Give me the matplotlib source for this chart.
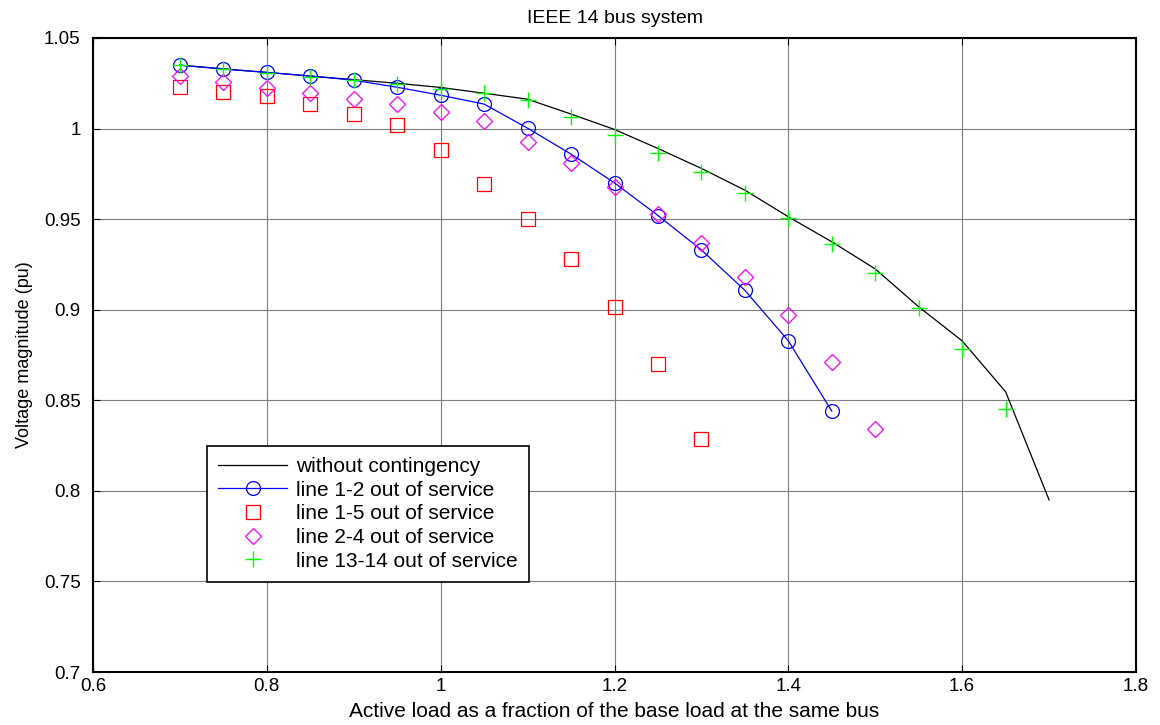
import matplotlib
matplotlib.use("Agg")
import matplotlib.pyplot as plt

plt.rcParams['font.family'] = ['Liberation Sans', 'DejaVu Sans']

# load fraction
load = [0.7, 0.75, 0.8, 0.85, 0.9, 0.95, 1.0, 1.05, 1.1, 1.15, 1.2, 1.25,
        1.3, 1.35, 1.4, 1.45, 1.5, 1.55, 1.6, 1.65, 1.7]

# voltage magnitudes (pu)
v_base = [1.035, 1.033, 1.031, 1.029, 1.027, 1.025, 1.0227, 1.0195, 1.0162,
          1.008, 0.9995, 0.989, 0.978, 0.966, 0.9513, 0.9375, 0.9225, 0.9016,
          0.8828, 0.8547, 0.795]
v_12 = [1.035, 1.0328, 1.031, 1.029, 1.0267, 1.0228, 1.0184, 1.0135, 1.0002,
        0.9859, 0.970, 0.952, 0.933, 0.9107, 0.8828, 0.844]
v_15 = [1.0232, 1.0203, 1.018, 1.0136, 1.0083, 1.0022, 0.988, 0.9695, 0.9502,
        0.9278, 0.9015, 0.870, 0.8284]
v_24 = [1.029, 1.0256, 1.0223, 1.0195, 1.0162, 1.0135, 1.009, 1.004, 0.9925,
        0.981, 0.968, 0.9526, 0.9366, 0.918, 0.897, 0.871, 0.834]
v_1314 = [1.035, 1.0328, 1.0306, 1.0284, 1.0267, 1.0245, 1.0216, 1.0194,
          1.0157, 1.0062, 0.9967, 0.9864, 0.9759, 0.9642, 0.9504, 0.9365,
          0.9204, 0.9011, 0.8782, 0.845]

fig = plt.figure(figsize=(11.6, 7.25), dpi=100)
ax = fig.add_axes([0.0802, 0.0731, 0.8991, 0.8745])

ax.plot(load[:len(v_base)], v_base, color="k", lw=0.9,
        label="without contingency")
ax.plot(load[:len(v_12)], v_12, color="#0000ff", lw=0.9, marker="o",
        ms=10, mfc="none", mew=0.9, label="line 1-2 out of service")
ax.plot(load[:len(v_15)], v_15, ls="none", color="#ff0000", marker="s",
        ms=10, mfc="none", mew=0.9, label="line 1-5 out of service")
ax.plot(load[:len(v_24)], v_24, ls="none", color="#ff00ff", marker="D",
        ms=8, mfc="none", mew=0.9, label="line 2-4 out of service")
ax.plot(load[:len(v_1314)], v_1314, ls="none", color="#00ff00", marker="+",
        ms=12, mew=1.0, label="line 13-14 out of service")

ax.set_xlim(0.6, 1.8)
ax.set_ylim(0.7, 1.05)
ax.set_xticks([0.6, 0.8, 1.0, 1.2, 1.4, 1.6, 1.8])
ax.set_xticklabels(["0.6", "0.8", "1", "1.2", "1.4", "1.6", "1.8"])
ax.set_yticks([0.7, 0.75, 0.8, 0.85, 0.9, 0.95, 1.0, 1.05])
ax.set_yticklabels(["0.7", "0.75", "0.8", "0.85", "0.9", "0.95", "1", "1.05"])
ax.tick_params(direction="in", top=True, right=True, labelsize=13.5, length=5)
ax.tick_params(axis="y", pad=9)
ax.tick_params(axis="x", pad=4)
ax.grid(True, color="#7f7f7f", lw=0.8)
for s in ax.spines.values():
    s.set_linewidth(1.5)

ax.set_title("IEEE 14 bus system", fontsize=14, pad=11)
ax.set_xlabel("Active load as a fraction of the base load at the same bus",
              fontsize=15, labelpad=5)
ax.set_ylabel("Voltage magnitude (pu)", fontsize=13, labelpad=8)

leg = ax.legend(loc="lower left", bbox_to_anchor=(0.109, 0.142),
                fontsize=15, fancybox=False, framealpha=1,
                edgecolor="k", borderaxespad=0, handlelength=3.3,
                handletextpad=0.45, labelspacing=0.22, borderpad=0.55)
leg.get_frame().set_linewidth(1.2)

fig.savefig("out.png", dpi=100)
